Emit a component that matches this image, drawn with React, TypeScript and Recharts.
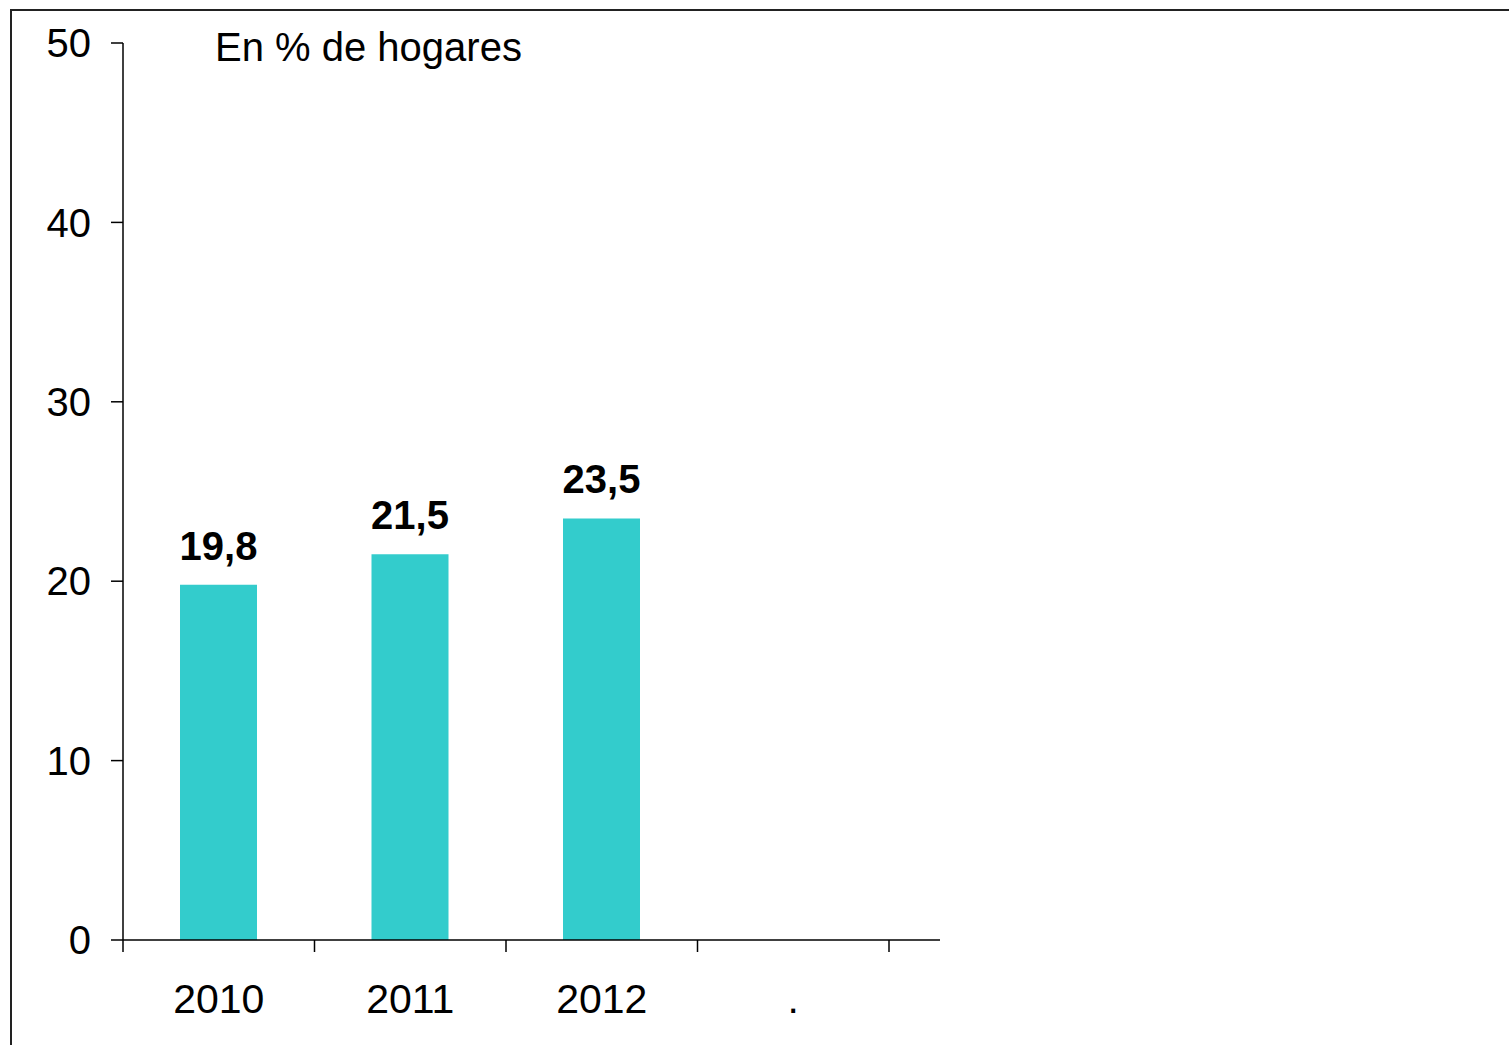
import React from 'react';
import { BarChart, Bar, XAxis, YAxis, LabelList } from 'recharts';

const years = ['2010', '2011', '2012', '.'];
const shares = [19.8, 21.5, 23.5, null];
const yTicks = [0, 10, 20, 30, 40, 50];
const title = 'En % de hogares';

const data = years.map((year, i) => ({ year, value: shares[i] }));

const FONT = '"Liberation Sans", Arial, sans-serif';
const CHART_W = 1000;
const CHART_H = 1040;
const MARGIN = { top: 43, right: 60, left: 0, bottom: 0 };
const Y_W = 123;
const PAD_RIGHT = 51;
const PLOT_W = CHART_W - MARGIN.left - MARGIN.right - Y_W;
const BAND = (PLOT_W - PAD_RIGHT) / years.length;

const XTick = (props: any) => {
  const { x, y, payload, index } = props;
  const axisY = y - 8;
  const last = index === years.length - 1;
  return (
    <g>
      <line x1={x - BAND / 2} x2={x - BAND / 2} y1={axisY} y2={axisY + 12} stroke="#000" strokeWidth={1.5} />
      {last && (
        <line x1={x + BAND / 2} x2={x + BAND / 2} y1={axisY} y2={axisY + 12} stroke="#000" strokeWidth={1.5} />
      )}
      <text x={x} y={axisY + 73} textAnchor="middle" fontSize={41} fontFamily={FONT} fill="#000">
        {payload.value}
      </text>
    </g>
  );
};

const App: React.FC = () => {
  return (
    <div style={{ position: 'absolute', left: 0, top: 0, width: 1509, height: 1045, background: '#fff', overflow: 'hidden' }}>
      <div
        style={{
          position: 'absolute',
          left: 10,
          top: 9,
          width: 1499,
          height: 1036,
          borderLeft: '2px solid #222',
          borderTop: '2px solid #222',
          boxSizing: 'border-box',
        }}
      />
      <div
        style={{
          position: 'absolute',
          left: 215,
          top: 27,
          fontFamily: FONT,
          fontSize: 40,
          lineHeight: 1,
          color: '#000',
          whiteSpace: 'nowrap',
        }}
      >
        {title}
      </div>
      <div style={{ position: 'absolute', left: 0, top: 0 }}>
        <BarChart width={CHART_W} height={CHART_H} data={data} margin={MARGIN}>
          <XAxis
            dataKey="year"
            height={100}
            padding={{ left: 0, right: PAD_RIGHT }}
            axisLine={{ stroke: '#000', strokeWidth: 1.5 }}
            tickLine={false}
            tick={<XTick />}
            interval={0}
          />
          <YAxis
            width={Y_W}
            domain={[0, 50]}
            ticks={yTicks}
            interval={0}
            tickSize={12}
            tickMargin={20}
            axisLine={{ stroke: '#000', strokeWidth: 1.5 }}
            tickLine={{ stroke: '#000', strokeWidth: 1.5 }}
            tick={{ fill: '#000', fontSize: 40, fontFamily: FONT }}
          />
          <Bar dataKey="value" fill="#33CCCC" barSize={77} isAnimationActive={false}>
            <LabelList
              dataKey="value"
              position="top"
              offset={25}
              formatter={(v: any) => (v == null ? '' : String(v).replace('.', ','))}
              style={{ fill: '#000', fontSize: 40, fontWeight: 'bold', fontFamily: FONT }}
            />
          </Bar>
        </BarChart>
      </div>
    </div>
  );
};

export default App;
